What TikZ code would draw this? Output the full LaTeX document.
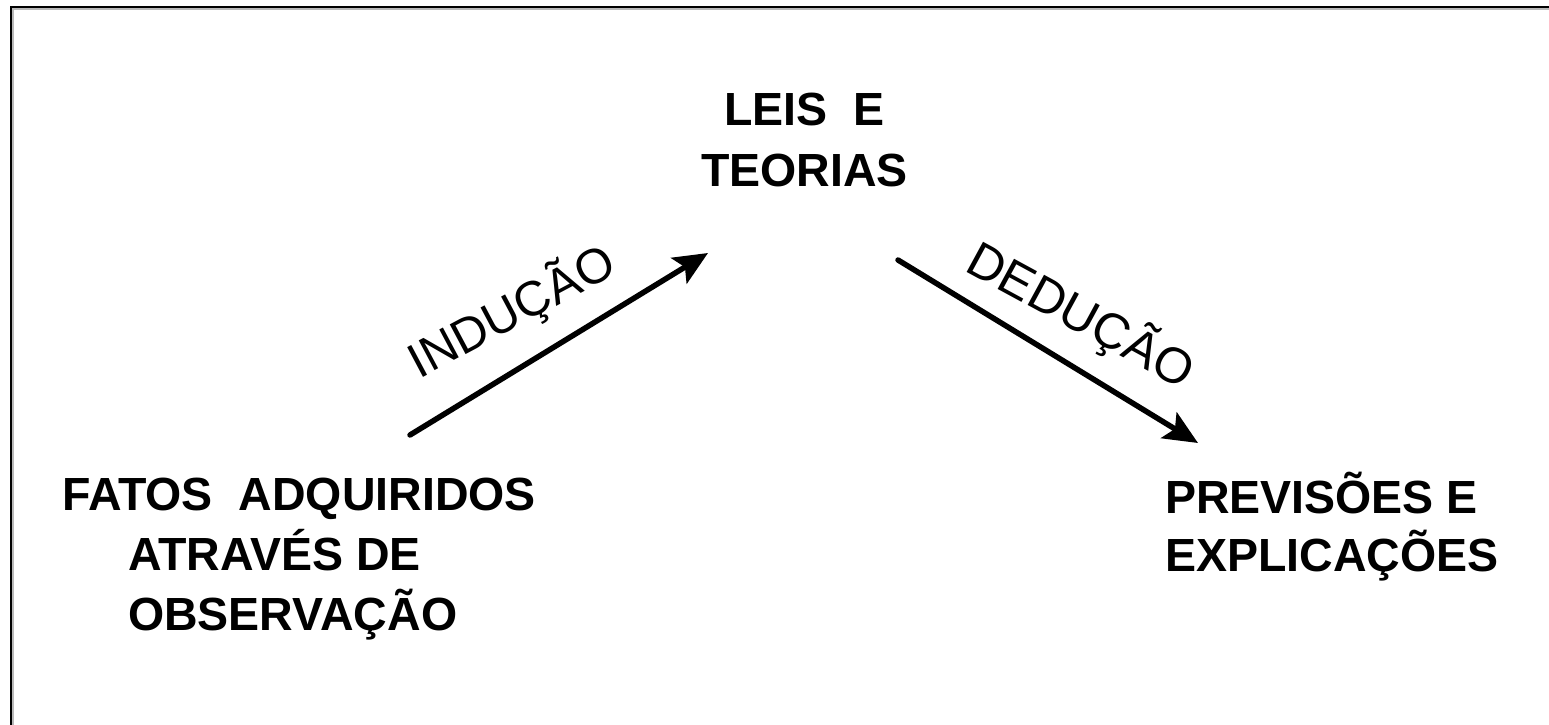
\documentclass[tikz,border=0pt]{standalone}
\usepackage{fontspec}
\setmainfont{Liberation Sans}
\usetikzlibrary{arrows.meta}
\tikzset{
  bigtext/.style={inner sep=0pt, anchor=base west, font=\bfseries\fontsize{46.5}{60}\selectfont},
  lbl/.style={inner sep=0pt, anchor=base},
  arr/.style={line width=5.5pt, line cap=round, -{Stealth[length=34pt,width=30pt,inset=7pt]}},
}
\begin{document}
\begin{tikzpicture}[x=1pt,y=-1pt]
\useasboundingbox (0,0) rectangle (1549,725);
\fill[white] (0,0) rectangle (1549,725);
% frame (top and left edges)
\draw[gray!55, line width=1.6pt] (12.8,725) -- (12.8,9.2) -- (1549,9.2);
\draw[black, line width=2pt] (11,725) -- (11,7.5) -- (1549,7.5);
% texts
\node[bigtext] (f1) at (62,510) {FATOS\ \ ADQUIRIDOS};
\node[bigtext] (f2) at (128,570) {ATRAVÉS DE};
\node[bigtext] (f3) at (128,630) {OBSERVAÇÃO};
\node[bigtext] (l1) at (724,125) {LEIS\ \ E};
\node[bigtext] (l2) at (701,186) {TEORIAS};
\node[bigtext] (p1) at (1165,513) {PREVISÕES E};
\node[bigtext] (p2) at (1165,571) {EXPLICAÇÕES};
% arrows
\coordinate (a1) at (410,435);
\coordinate (a2) at (708,253);
\coordinate (b1) at (898,260);
\coordinate (b2) at (1198,443);
\draw[arr] (a1) -- (a2);
\draw[arr] (b1) -- (b2);
\node[lbl, rotate=28, font=\fontsize{49}{50}\selectfont] (ind) at (519,326) {INDUÇÃO};
\node[lbl, rotate=-28.5, font=\fontsize{50}{50}\selectfont] (ded) at (1073,330) {DEDUÇÃO};
\end{tikzpicture}
\end{document}
